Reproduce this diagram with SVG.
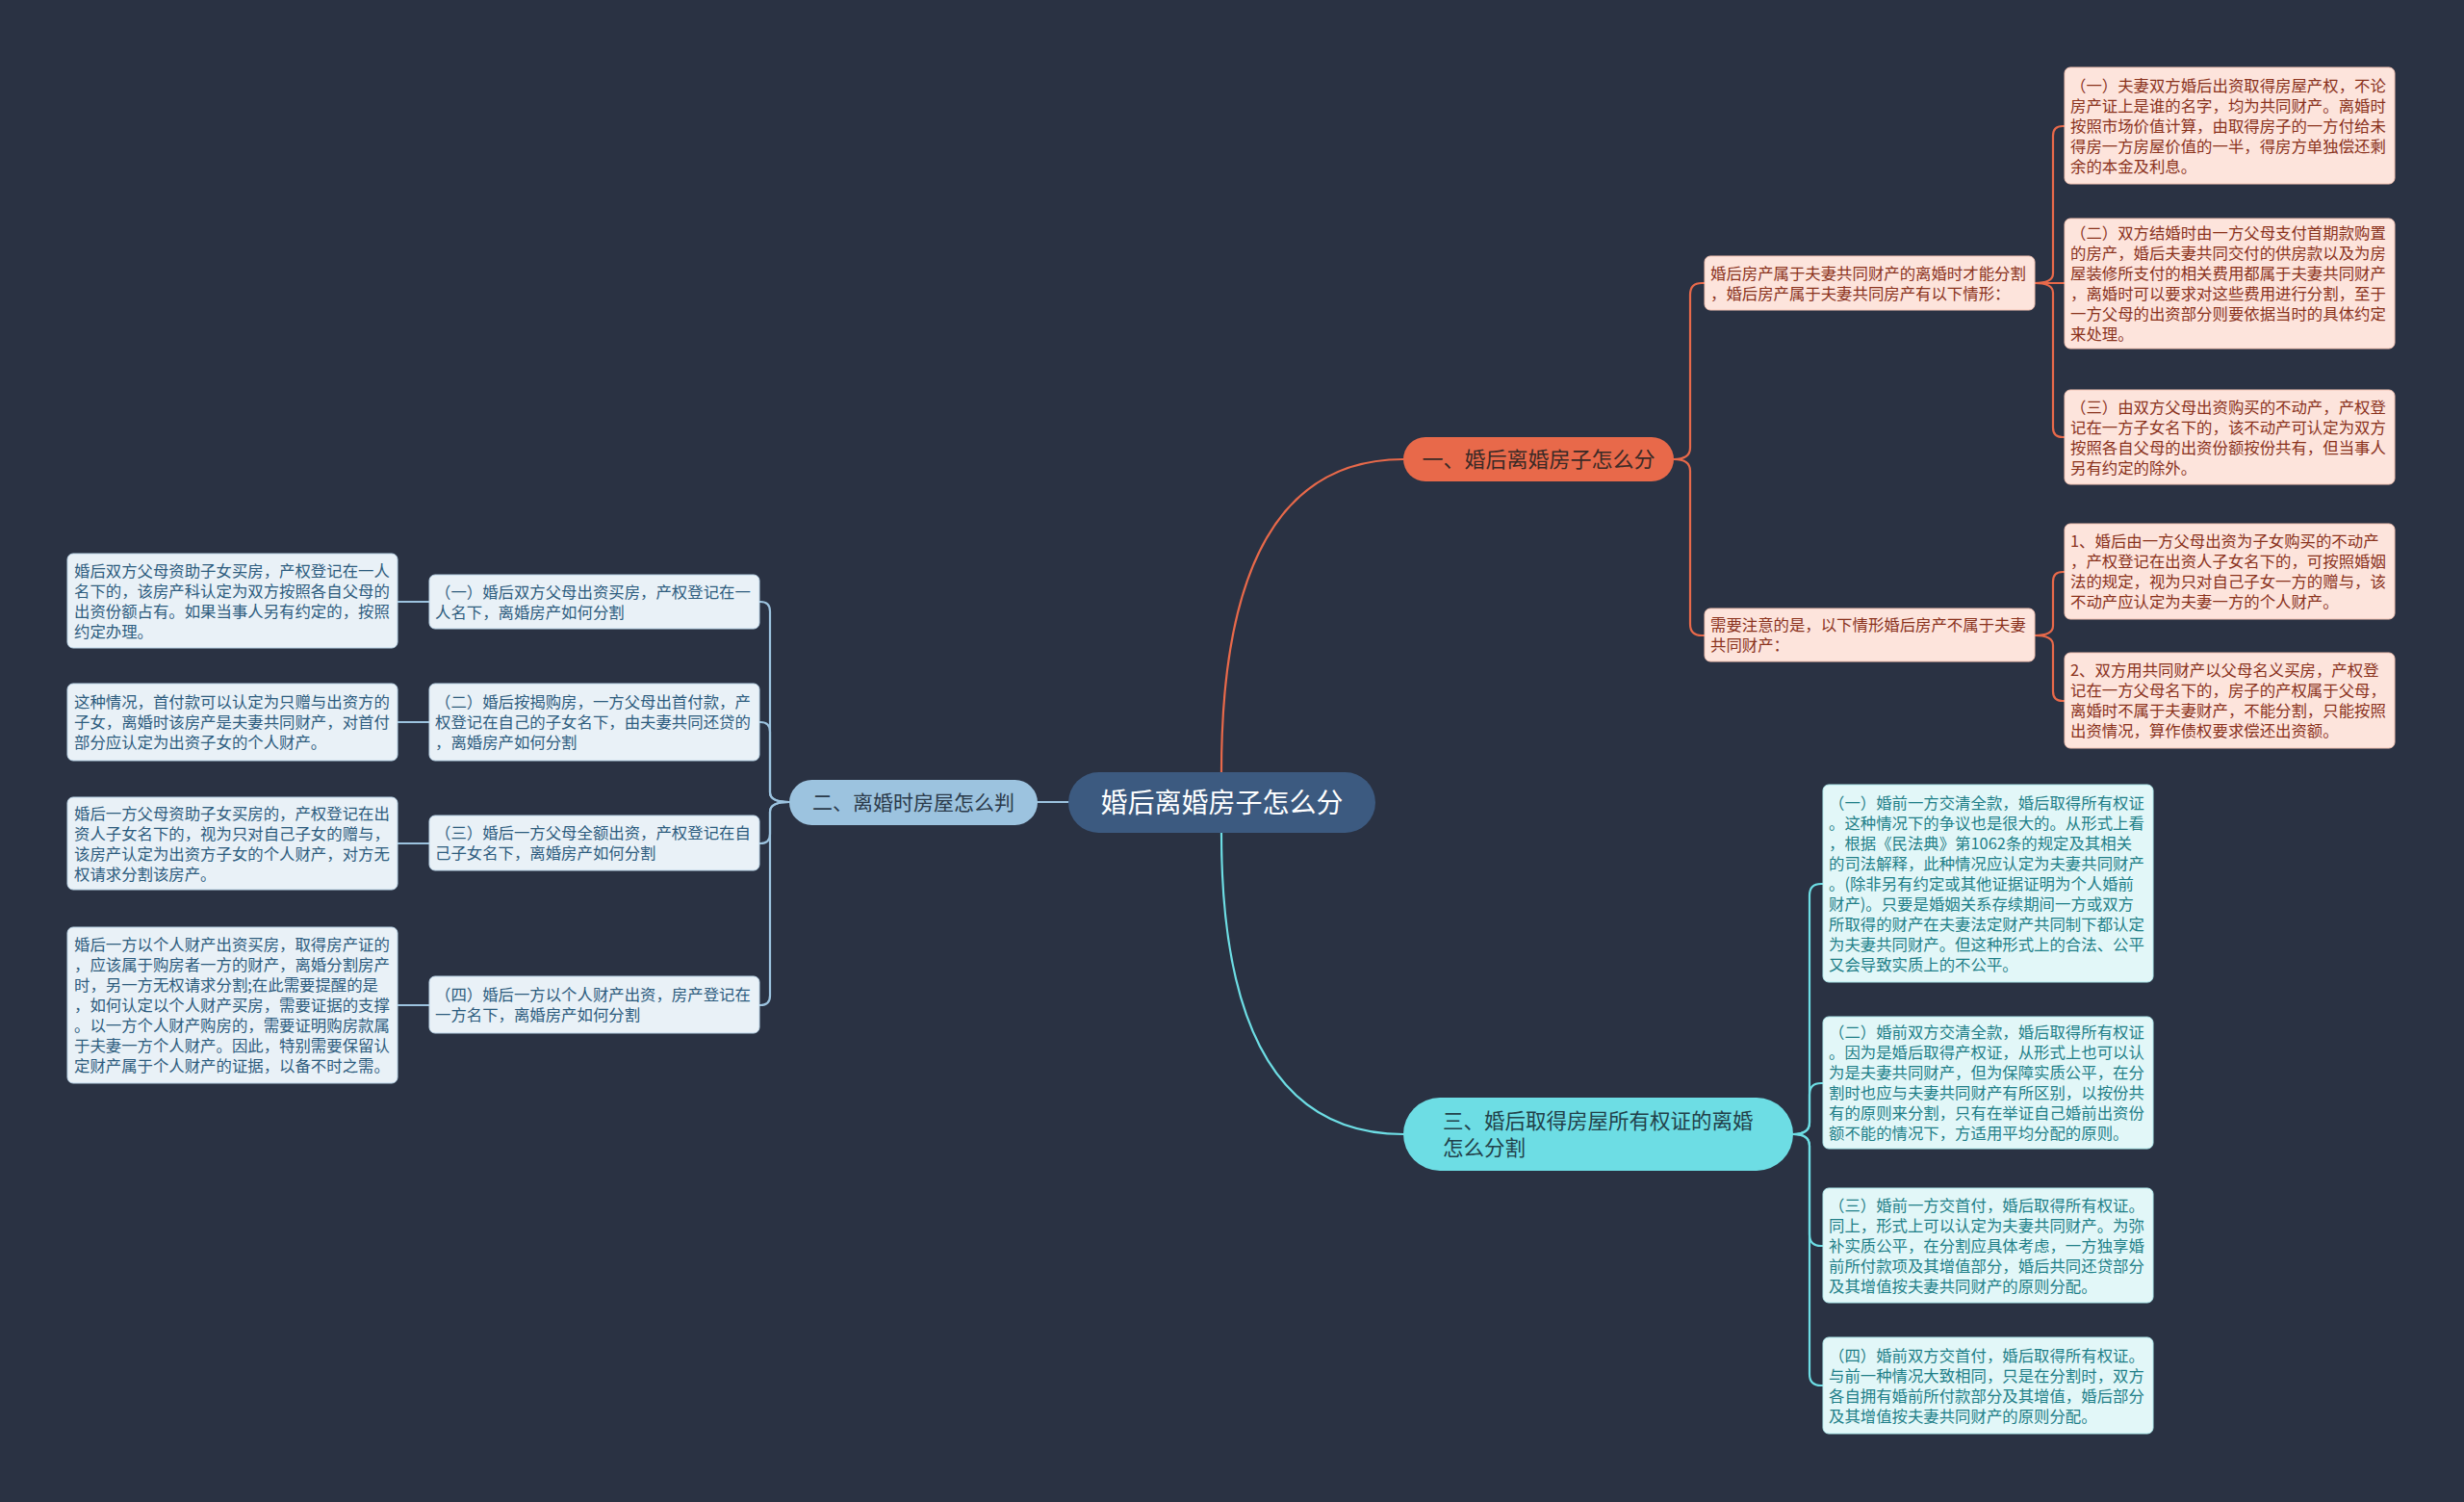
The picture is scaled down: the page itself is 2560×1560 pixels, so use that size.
<svg xmlns="http://www.w3.org/2000/svg" width="2560" height="1560" viewBox="0 0 2560 1560">
<style>
text{font-family:"Noto Sans CJK SC","Noto Sans",sans-serif;}
.bg{fill:#2a3243;}
.edge{fill:none;stroke-width:2.2;stroke-linecap:round;}
.eo{stroke:#e8694a;}
.eb{stroke:#9cc3df;}
.ec{stroke:#6ddde4;}
.lp{fill:#fde4dc;stroke:#f2c2b3;stroke-width:1;}
.lb{fill:#e9f1f7;stroke:#b9d3e6;stroke-width:1;}
.lc{fill:#e2f7f8;stroke:#aee9ec;stroke-width:1;}
.tp{font-size:16.4px;fill:#8a321c;}
.tb{font-size:16.4px;fill:#2d5c7e;}
.tc{font-size:16.4px;fill:#1f7f88;}
</style>
<rect class="bg" x="0" y="0" width="2560" height="1560"/>
<g id="connectors">
<path class="edge eo" d="M1269 802 Q1269 477 1458 477"/>
<path class="edge eb" d="M1110 833 H1078"/>
<path class="edge ec" d="M1269 865 Q1269 1178 1458 1178"/>
<path class="edge eo" d="M1739 477 Q1756 477 1756 465 V306 Q1756 294 1768 294 H1771"/>
<path class="edge eo" d="M1739 477 Q1756 477 1756 489 V648 Q1756 660 1768 660 H1771"/>
<path class="edge eo" d="M2114 294 Q2133 294 2133 284 V141 Q2133 131 2143 131 H2145"/>
<path class="edge eo" d="M2114 294 H2145"/>
<path class="edge eo" d="M2114 294 Q2133 294 2133 304 V444 Q2133 454 2143 454 H2145"/>
<path class="edge eo" d="M2114 660 Q2133 660 2133 650 V604 Q2133 594 2143 594 H2145"/>
<path class="edge eo" d="M2114 660 Q2133 660 2133 670 V718 Q2133 728 2143 728 H2145"/>
<path class="edge eb" d="M820 833 Q800 833 800 823 V635 Q800 625 790 625 H789"/>
<path class="edge eb" d="M820 833 Q800 833 800 823 V760 Q800 750 790 750 H789"/>
<path class="edge eb" d="M820 833 Q800 833 800 843 V866 Q800 876 790 876 H789"/>
<path class="edge eb" d="M820 833 Q800 833 800 843 V1034 Q800 1044 790 1044 H789"/>
<path class="edge eb" d="M413 625 H446"/>
<path class="edge eb" d="M413 750 H446"/>
<path class="edge eb" d="M413 876 H446"/>
<path class="edge eb" d="M413 1044 H446"/>
<path class="edge ec" d="M1863 1178 Q1880 1178 1880 1166 V930 Q1880 918 1892 918 H1894"/>
<path class="edge ec" d="M1863 1178 Q1880 1178 1880 1166 V1137 Q1880 1125 1892 1125 H1894"/>
<path class="edge ec" d="M1863 1178 Q1880 1178 1880 1190 V1282 Q1880 1294 1892 1294 H1894"/>
<path class="edge ec" d="M1863 1178 Q1880 1178 1880 1190 V1427 Q1880 1439 1892 1439 H1894"/>
</g>
<g id="root">
<rect x="1110" y="802" width="319" height="63" rx="31.5" fill="#3c5a80"/>
<text x="1269.5" y="843.5" text-anchor="middle" font-size="28" fill="#ffffff">婚后离婚房子怎么分</text>
</g>
<g id="b1">
<rect x="1458" y="454" width="281" height="46" rx="23" fill="#e8694a"/>
<text x="1598.5" y="485" text-anchor="middle" font-size="22" fill="#3b2a26">一、婚后离婚房子怎么分</text>
</g>
<g id="b2">
<rect x="820" y="810" width="258" height="47" rx="23.5" fill="#9cc3df"/>
<text x="949" y="841" text-anchor="middle" font-size="21" fill="#2b3a4a">二、离婚时房屋怎么判</text>
</g>
<g id="b3">
<rect x="1458" y="1140" width="405" height="76" rx="38" fill="#6ddde4"/>
<text font-size="21.5" fill="#22414a"><tspan x="1499" y="1172">三、婚后取得房屋所有权证的离婚</tspan><tspan x="1499" y="1200">怎么分割</tspan></text>
</g>
<g id="a1">
<rect class="lp" x="1771" y="266" width="343" height="56" rx="6"/>
<text class="tp"><tspan x="1777" y="289.5">婚后房产属于夫妻共同财产的离婚时才能分割</tspan><tspan x="1777" y="310.5">，婚后房产属于夫妻共同房产有以下情形：</tspan></text>
</g>
<g id="a2">
<rect class="lp" x="1771" y="632" width="343" height="55" rx="6"/>
<text class="tp"><tspan x="1777" y="655">需要注意的是，以下情形婚后房产不属于夫妻</tspan><tspan x="1777" y="676">共同财产：</tspan></text>
</g>
<g id="l1">
<rect class="lp" x="2145" y="70" width="343" height="121" rx="6"/>
<text class="tp"><tspan x="2151" y="94.5">（一）夫妻双方婚后出资取得房屋产权，不论</tspan><tspan x="2151" y="115.5">房产证上是谁的名字，均为共同财产。离婚时</tspan><tspan x="2151" y="136.5">按照市场价值计算，由取得房子的一方付给未</tspan><tspan x="2151" y="157.5">得房一方房屋价值的一半，得房方单独偿还剩</tspan><tspan x="2151" y="178.5">余的本金及利息。</tspan></text>
</g>
<g id="l2">
<rect class="lp" x="2145" y="227" width="343" height="135" rx="6"/>
<text class="tp"><tspan x="2151" y="248">（二）双方结婚时由一方父母支付首期款购置</tspan><tspan x="2151" y="269">的房产，婚后夫妻共同交付的供房款以及为房</tspan><tspan x="2151" y="290">屋装修所支付的相关费用都属于夫妻共同财产</tspan><tspan x="2151" y="311">，离婚时可以要求对这些费用进行分割，至于</tspan><tspan x="2151" y="332">一方父母的出资部分则要依据当时的具体约定</tspan><tspan x="2151" y="353">来处理。</tspan></text>
</g>
<g id="l3">
<rect class="lp" x="2145" y="405" width="343" height="98" rx="6"/>
<text class="tp"><tspan x="2151" y="428.5">（三）由双方父母出资购买的不动产，产权登</tspan><tspan x="2151" y="449.5">记在一方子女名下的，该不动产可认定为双方</tspan><tspan x="2151" y="470.5">按照各自父母的出资份额按份共有，但当事人</tspan><tspan x="2151" y="491.5">另有约定的除外。</tspan></text>
</g>
<g id="l4">
<rect class="lp" x="2145" y="544" width="343" height="99" rx="6"/>
<text class="tp"><tspan x="2151" y="568">1、婚后由一方父母出资为子女购买的不动产</tspan><tspan x="2151" y="589">，产权登记在出资人子女名下的，可按照婚姻</tspan><tspan x="2151" y="610">法的规定，视为只对自己子女一方的赠与，该</tspan><tspan x="2151" y="631">不动产应认定为夫妻一方的个人财产。</tspan></text>
</g>
<g id="l5">
<rect class="lp" x="2145" y="678" width="343" height="99" rx="6"/>
<text class="tp"><tspan x="2151" y="702">2、双方用共同财产以父母名义买房，产权登</tspan><tspan x="2151" y="723">记在一方父母名下的，房子的产权属于父母，</tspan><tspan x="2151" y="744">离婚时不属于夫妻财产，不能分割，只能按照</tspan><tspan x="2151" y="765">出资情况，算作债权要求偿还出资额。</tspan></text>
</g>
<g id="m1">
<rect class="lb" x="446" y="597" width="343" height="56" rx="6"/>
<text class="tb"><tspan x="452" y="620.5">（一）婚后双方父母出资买房，产权登记在一</tspan><tspan x="452" y="641.5">人名下，离婚房产如何分割</tspan></text>
</g>
<g id="m2">
<rect class="lb" x="446" y="710" width="343" height="80" rx="6"/>
<text class="tb"><tspan x="452" y="735">（二）婚后按揭购房，一方父母出首付款，产</tspan><tspan x="452" y="756">权登记在自己的子女名下，由夫妻共同还贷的</tspan><tspan x="452" y="777">，离婚房产如何分割</tspan></text>
</g>
<g id="m3">
<rect class="lb" x="446" y="847" width="343" height="57" rx="6"/>
<text class="tb"><tspan x="452" y="871">（三）婚后一方父母全额出资，产权登记在自</tspan><tspan x="452" y="892">己子女名下，离婚房产如何分割</tspan></text>
</g>
<g id="m4">
<rect class="lb" x="446" y="1014" width="343" height="59" rx="6"/>
<text class="tb"><tspan x="452" y="1039">（四）婚后一方以个人财产出资，房产登记在</tspan><tspan x="452" y="1060">一方名下，离婚房产如何分割</tspan></text>
</g>
<g id="c1">
<rect class="lb" x="70" y="575" width="343" height="98" rx="6"/>
<text class="tb"><tspan x="77" y="598.5">婚后双方父母资助子女买房，产权登记在一人</tspan><tspan x="77" y="619.5">名下的，该房产科认定为双方按照各自父母的</tspan><tspan x="77" y="640.5">出资份额占有。如果当事人另有约定的，按照</tspan><tspan x="77" y="661.5">约定办理。</tspan></text>
</g>
<g id="c2">
<rect class="lb" x="70" y="710" width="343" height="80" rx="6"/>
<text class="tb"><tspan x="77" y="735">这种情况，首付款可以认定为只赠与出资方的</tspan><tspan x="77" y="756">子女，离婚时该房产是夫妻共同财产，对首付</tspan><tspan x="77" y="777">部分应认定为出资子女的个人财产。</tspan></text>
</g>
<g id="c3">
<rect class="lb" x="70" y="828" width="343" height="96" rx="6"/>
<text class="tb"><tspan x="77" y="850.5">婚后一方父母资助子女买房的，产权登记在出</tspan><tspan x="77" y="871.5">资人子女名下的，视为只对自己子女的赠与，</tspan><tspan x="77" y="892.5">该房产认定为出资方子女的个人财产，对方无</tspan><tspan x="77" y="913.5">权请求分割该房产。</tspan></text>
</g>
<g id="c4">
<rect class="lb" x="70" y="963" width="343" height="162" rx="6"/>
<text class="tb"><tspan x="77" y="987">婚后一方以个人财产出资买房，取得房产证的</tspan><tspan x="77" y="1008">，应该属于购房者一方的财产，离婚分割房产</tspan><tspan x="77" y="1029">时，另一方无权请求分割;在此需要提醒的是</tspan><tspan x="77" y="1050">，如何认定以个人财产买房，需要证据的支撑</tspan><tspan x="77" y="1071">。以一方个人财产购房的，需要证明购房款属</tspan><tspan x="77" y="1092">于夫妻一方个人财产。因此，特别需要保留认</tspan><tspan x="77" y="1113">定财产属于个人财产的证据，以备不时之需。</tspan></text>
</g>
<g id="d1">
<rect class="lc" x="1894" y="815" width="343" height="205" rx="6"/>
<text class="tc"><tspan x="1900" y="839.5">（一）婚前一方交清全款，婚后取得所有权证</tspan><tspan x="1900" y="860.5">。这种情况下的争议也是很大的。从形式上看</tspan><tspan x="1900" y="881.5">，根据《民法典》第1062条的规定及其相关</tspan><tspan x="1900" y="902.5">的司法解释，此种情况应认定为夫妻共同财产</tspan><tspan x="1900" y="923.5">。(除非另有约定或其他证据证明为个人婚前</tspan><tspan x="1900" y="944.5">财产)。只要是婚姻关系存续期间一方或双方</tspan><tspan x="1900" y="965.5">所取得的财产在夫妻法定财产共同制下都认定</tspan><tspan x="1900" y="986.5">为夫妻共同财产。但这种形式上的合法、公平</tspan><tspan x="1900" y="1007.5">又会导致实质上的不公平。</tspan></text>
</g>
<g id="d2">
<rect class="lc" x="1894" y="1056" width="343" height="137" rx="6"/>
<text class="tc"><tspan x="1900" y="1078">（二）婚前双方交清全款，婚后取得所有权证</tspan><tspan x="1900" y="1099">。因为是婚后取得产权证，从形式上也可以认</tspan><tspan x="1900" y="1120">为是夫妻共同财产，但为保障实质公平，在分</tspan><tspan x="1900" y="1141">割时也应与夫妻共同财产有所区别，以按份共</tspan><tspan x="1900" y="1162">有的原则来分割，只有在举证自己婚前出资份</tspan><tspan x="1900" y="1183">额不能的情况下，方适用平均分配的原则。</tspan></text>
</g>
<g id="d3">
<rect class="lc" x="1894" y="1234" width="343" height="119" rx="6"/>
<text class="tc"><tspan x="1900" y="1257.5">（三）婚前一方交首付，婚后取得所有权证。</tspan><tspan x="1900" y="1278.5">同上，形式上可以认定为夫妻共同财产。为弥</tspan><tspan x="1900" y="1299.5">补实质公平，在分割应具体考虑，一方独享婚</tspan><tspan x="1900" y="1320.5">前所付款项及其增值部分，婚后共同还贷部分</tspan><tspan x="1900" y="1341.5">及其增值按夫妻共同财产的原则分配。</tspan></text>
</g>
<g id="d4">
<rect class="lc" x="1894" y="1389" width="343" height="100" rx="6"/>
<text class="tc"><tspan x="1900" y="1413.5">（四）婚前双方交首付，婚后取得所有权证。</tspan><tspan x="1900" y="1434.5">与前一种情况大致相同，只是在分割时，双方</tspan><tspan x="1900" y="1455.5">各自拥有婚前所付款部分及其增值，婚后部分</tspan><tspan x="1900" y="1476.5">及其增值按夫妻共同财产的原则分配。</tspan></text>
</g>
</svg>
